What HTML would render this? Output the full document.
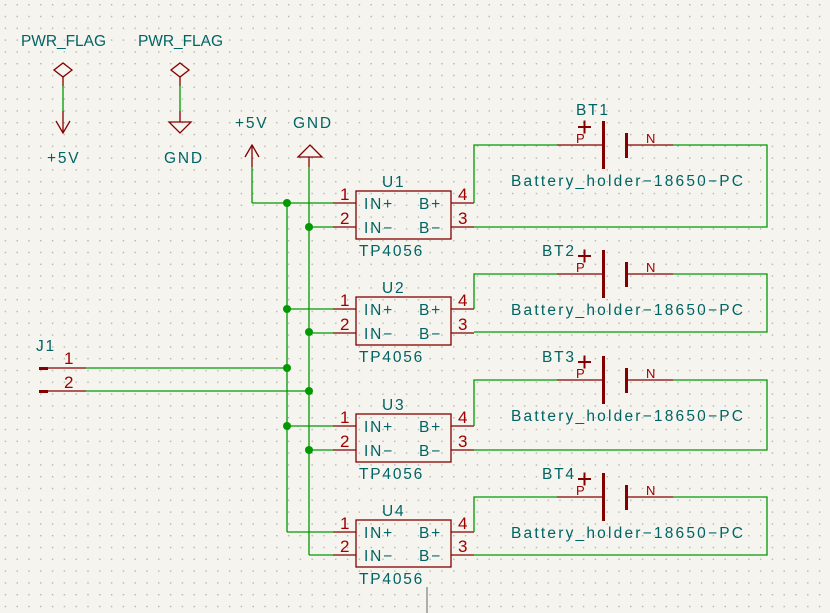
<!DOCTYPE html>
<html><head><meta charset="utf-8"><style>
html,body{margin:0;padding:0;background:#f5f4ef;}
svg{display:block;}
text{font-family:"Liberation Sans",sans-serif;}
.t{fill:#006464;font-size:15.5px;letter-spacing:1.8px;}
.r{fill:#a00000;font-size:17px;}
.s{fill:#a00000;font-size:13px;}
</style></head><body>
<svg width="830" height="613" viewBox="0 0 830 613" xmlns="http://www.w3.org/2000/svg">
<defs>
<pattern id="g" x="4.7" y="4" width="11.8" height="11.8" patternUnits="userSpaceOnUse">
<rect x="0" y="0" width="1.4" height="1.4" fill="#b4b4b0"/>
</pattern>
</defs>
<rect width="830" height="613" fill="#f5f4ef"/>
<rect width="830" height="613" fill="url(#g)"/>

<!-- PWR_FLAG left -->
<text class="t" x="21" y="46" textLength="85" style="letter-spacing:0">PWR_FLAG</text>
<path d="M63 63 L72 70 L63 77 L54 70 Z" fill="none" stroke="#840000" stroke-width="1.3"/>
<line x1="63" y1="77" x2="63" y2="86" stroke="#840000" stroke-width="1.3"/>
<line x1="63" y1="86" x2="63" y2="111" stroke="#009900" stroke-width="1.3"/>
<line x1="63" y1="111" x2="63" y2="133" stroke="#840000" stroke-width="1.3"/>
<path d="M56 121 L63 133 L70 121" fill="none" stroke="#840000" stroke-width="1.3"/>
<text class="t" x="47" y="163">+5V</text>

<!-- PWR_FLAG right -->
<text class="t" x="138" y="46" textLength="85" style="letter-spacing:0">PWR_FLAG</text>
<path d="M180 63 L189 70 L180 77 L171 70 Z" fill="none" stroke="#840000" stroke-width="1.3"/>
<line x1="180" y1="77" x2="180" y2="86" stroke="#840000" stroke-width="1.3"/>
<line x1="180" y1="86" x2="180" y2="111" stroke="#009900" stroke-width="1.3"/>
<line x1="180" y1="111" x2="180" y2="122" stroke="#840000" stroke-width="1.3"/>
<path d="M169 122 L191 122 L180 133 Z" fill="none" stroke="#840000" stroke-width="1.3"/>
<text class="t" x="164" y="163">GND</text>

<!-- +5V and GND symbols -->
<text class="t" x="235" y="128">+5V</text>
<line x1="252" y1="145" x2="252" y2="167" stroke="#840000" stroke-width="1.3"/>
<path d="M245 157 L252 145 L259 157" fill="none" stroke="#840000" stroke-width="1.3"/>
<line x1="252" y1="167" x2="252" y2="203" stroke="#009900" stroke-width="1.3"/>
<text class="t" x="293" y="128">GND</text>
<path d="M298 157 L322 157 L310 145 Z" fill="none" stroke="#840000" stroke-width="1.3"/>
<line x1="309" y1="157" x2="309" y2="167" stroke="#840000" stroke-width="1.3"/>

<!-- buses -->
<g stroke="#009900" stroke-width="1.3" fill="none">
<line x1="309" y1="167" x2="309" y2="555"/>
<line x1="287" y1="203" x2="287" y2="532"/>
<line x1="252" y1="203" x2="333" y2="203"/>
<line x1="86" y1="368" x2="287" y2="368"/>
<line x1="86" y1="391" x2="309" y2="391"/>
</g>
<g fill="#009900">
<circle cx="287" cy="203" r="4"/><circle cx="287" cy="309" r="4"/><circle cx="287" cy="368" r="4"/><circle cx="287" cy="426" r="4"/>
<circle cx="309" cy="227" r="4"/><circle cx="309" cy="332" r="4"/><circle cx="309" cy="391" r="4"/><circle cx="309" cy="450" r="4"/>
</g>

<!-- J1 -->
<text class="t" x="36" y="351">J1</text>
<rect x="39" y="367" width="9" height="3" fill="#840000"/>
<rect x="39" y="390" width="9" height="3" fill="#840000"/>
<line x1="48" y1="368" x2="86" y2="368" stroke="#840000" stroke-width="1.3"/>
<line x1="48" y1="391" x2="86" y2="391" stroke="#840000" stroke-width="1.3"/>
<text class="r" x="64" y="364">1</text>
<text class="r" x="64" y="388">2</text>

<line x1="427" y1="587" x2="427" y2="613" stroke="#888" stroke-width="1.3"/>

<!-- Units -->
<g>
<line x1="309" y1="227" x2="333" y2="227" stroke="#009900" stroke-width="1.3"/>
<rect x="356" y="191" width="95" height="48" fill="none" stroke="#840000" stroke-width="1.3"/>
<g stroke="#840000" stroke-width="1.3"><line x1="333" y1="203" x2="356" y2="203"/><line x1="333" y1="227" x2="356" y2="227"/><line x1="451" y1="203" x2="474" y2="203"/><line x1="451" y1="227" x2="474" y2="227"/></g>
<text class="r" x="340" y="200">1</text><text class="r" x="340" y="224">2</text>
<text class="r" x="458" y="200">4</text><text class="r" x="458" y="224">3</text>
<text class="t" x="364" y="209">IN+</text><text class="t" x="419" y="209">B+</text>
<text class="t" x="364" y="233">IN−</text><text class="t" x="419" y="233">B−</text>
<text class="t" x="382" y="187">U1</text>
<text class="t" x="359" y="256">TP4056</text>
</g>
<g transform="translate(0,106)">
<line x1="287" y1="203" x2="333" y2="203" stroke="#009900" stroke-width="1.3"/>
<line x1="309" y1="227" x2="333" y2="227" stroke="#009900" stroke-width="1.3"/>
<rect x="356" y="191" width="95" height="48" fill="none" stroke="#840000" stroke-width="1.3"/>
<g stroke="#840000" stroke-width="1.3"><line x1="333" y1="203" x2="356" y2="203"/><line x1="333" y1="227" x2="356" y2="227"/><line x1="451" y1="203" x2="474" y2="203"/><line x1="451" y1="227" x2="474" y2="227"/></g>
<text class="r" x="340" y="200">1</text><text class="r" x="340" y="224">2</text>
<text class="r" x="458" y="200">4</text><text class="r" x="458" y="224">3</text>
<text class="t" x="364" y="209">IN+</text><text class="t" x="419" y="209">B+</text>
<text class="t" x="364" y="233">IN−</text><text class="t" x="419" y="233">B−</text>
<text class="t" x="382" y="187">U2</text>
<text class="t" x="359" y="256">TP4056</text>
</g>
<g transform="translate(0,223)">
<line x1="287" y1="203" x2="333" y2="203" stroke="#009900" stroke-width="1.3"/>
<line x1="309" y1="227" x2="333" y2="227" stroke="#009900" stroke-width="1.3"/>
<rect x="356" y="191" width="95" height="48" fill="none" stroke="#840000" stroke-width="1.3"/>
<g stroke="#840000" stroke-width="1.3"><line x1="333" y1="203" x2="356" y2="203"/><line x1="333" y1="227" x2="356" y2="227"/><line x1="451" y1="203" x2="474" y2="203"/><line x1="451" y1="227" x2="474" y2="227"/></g>
<text class="r" x="340" y="200">1</text><text class="r" x="340" y="224">2</text>
<text class="r" x="458" y="200">4</text><text class="r" x="458" y="224">3</text>
<text class="t" x="364" y="209">IN+</text><text class="t" x="419" y="209">B+</text>
<text class="t" x="364" y="233">IN−</text><text class="t" x="419" y="233">B−</text>
<text class="t" x="382" y="187">U3</text>
<text class="t" x="359" y="256">TP4056</text>
</g>
<g transform="translate(0,329)">
<line x1="287" y1="203" x2="333" y2="203" stroke="#009900" stroke-width="1.3"/>
<line x1="309" y1="226" x2="333" y2="226" stroke="#009900" stroke-width="1.3"/>
<rect x="356" y="191" width="95" height="47" fill="none" stroke="#840000" stroke-width="1.3"/>
<g stroke="#840000" stroke-width="1.3"><line x1="333" y1="203" x2="356" y2="203"/><line x1="333" y1="226" x2="356" y2="226"/><line x1="451" y1="203" x2="474" y2="203"/><line x1="451" y1="226" x2="474" y2="226"/></g>
<text class="r" x="340" y="200">1</text><text class="r" x="340" y="223">2</text>
<text class="r" x="458" y="200">4</text><text class="r" x="458" y="223">3</text>
<text class="t" x="364" y="209">IN+</text><text class="t" x="419" y="209">B+</text>
<text class="t" x="364" y="232">IN−</text><text class="t" x="419" y="232">B−</text>
<text class="t" x="382" y="187">U4</text>
<text class="t" x="359" y="255">TP4056</text>
</g>

<!-- Batteries -->
<g stroke="#009900" stroke-width="1.3" fill="none">
<polyline points="474,203 474,145 557,145"/><polyline points="673,145 767,145 767,227 474,227"/>
<polyline points="474,309 474,274 557,274"/><polyline points="673,274 767,274 767,332 474,332"/>
<polyline points="474,426 474,380 557,380"/><polyline points="673,380 767,380 767,450 474,450"/>
<polyline points="474,532 474,497 557,497"/><polyline points="673,497 767,497 767,555 474,555"/>
</g>
<g>
<line x1="557" y1="145" x2="603" y2="145" stroke="#840000" stroke-width="1.3"/>
<line x1="626" y1="145" x2="673" y2="145" stroke="#840000" stroke-width="1.3"/>
<rect x="602" y="121" width="3" height="48" fill="#840000"/>
<rect x="625" y="133" width="3" height="25" fill="#840000"/>
<path d="M578 127 H591 M584.5 120.5 V133.5" stroke="#840000" stroke-width="2"/>
<text class="s" x="576" y="143">P</text><text class="s" x="646" y="143">N</text>
<text class="t" x="576" y="115">BT1</text>
<text class="t" x="511" y="186" textLength="232" style="letter-spacing:0">Battery_holder−18650−PC</text>
</g>
<g transform="translate(0,129)">
<line x1="557" y1="145" x2="603" y2="145" stroke="#840000" stroke-width="1.3"/>
<line x1="626" y1="145" x2="673" y2="145" stroke="#840000" stroke-width="1.3"/>
<rect x="602" y="121" width="3" height="48" fill="#840000"/>
<rect x="625" y="133" width="3" height="25" fill="#840000"/>
<path d="M578 127 H591 M584.5 120.5 V133.5" stroke="#840000" stroke-width="2"/>
<text class="s" x="576" y="143">P</text><text class="s" x="646" y="143">N</text>
<text class="t" x="542" y="127">BT2</text>
<text class="t" x="511" y="186" textLength="232" style="letter-spacing:0">Battery_holder−18650−PC</text>
</g>
<g transform="translate(0,235)">
<line x1="557" y1="145" x2="603" y2="145" stroke="#840000" stroke-width="1.3"/>
<line x1="626" y1="145" x2="673" y2="145" stroke="#840000" stroke-width="1.3"/>
<rect x="602" y="121" width="3" height="48" fill="#840000"/>
<rect x="625" y="133" width="3" height="25" fill="#840000"/>
<path d="M578 127 H591 M584.5 120.5 V133.5" stroke="#840000" stroke-width="2"/>
<text class="s" x="576" y="143">P</text><text class="s" x="646" y="143">N</text>
<text class="t" x="542" y="127">BT3</text>
<text class="t" x="511" y="186" textLength="232" style="letter-spacing:0">Battery_holder−18650−PC</text>
</g>
<g transform="translate(0,352)">
<line x1="557" y1="145" x2="603" y2="145" stroke="#840000" stroke-width="1.3"/>
<line x1="626" y1="145" x2="673" y2="145" stroke="#840000" stroke-width="1.3"/>
<rect x="602" y="121" width="3" height="48" fill="#840000"/>
<rect x="625" y="133" width="3" height="25" fill="#840000"/>
<path d="M578 127 H591 M584.5 120.5 V133.5" stroke="#840000" stroke-width="2"/>
<text class="s" x="576" y="143">P</text><text class="s" x="646" y="143">N</text>
<text class="t" x="542" y="127">BT4</text>
<text class="t" x="511" y="186" textLength="232" style="letter-spacing:0">Battery_holder−18650−PC</text>
</g>
</svg>
</body></html>
